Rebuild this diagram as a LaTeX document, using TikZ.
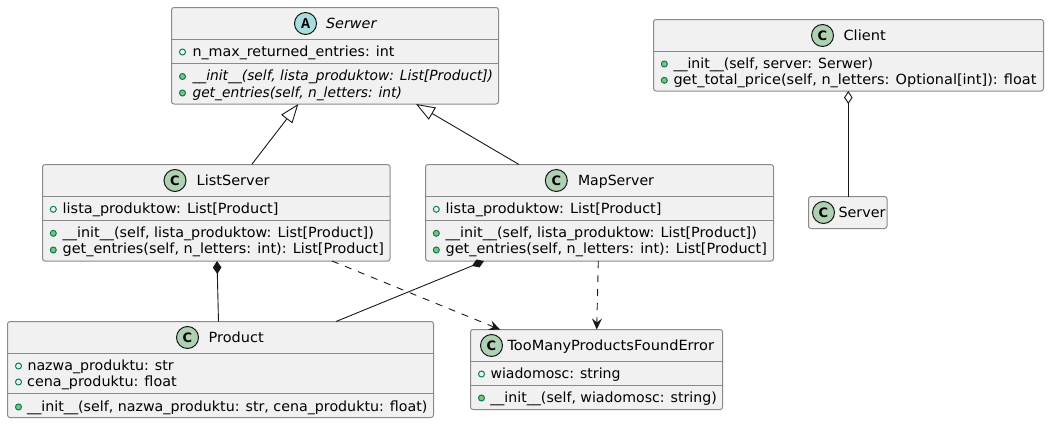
\documentclass[tikz,border=0pt]{standalone}
\usepackage{fontspec}
\usepackage{graphicx}
\setmainfont{DejaVu Sans}
\newfontfamily\glyphfont{Liberation Mono}
\usetikzlibrary{arrows.meta,calc}
\definecolor{boxfill}{HTML}{F1F1F1}
\definecolor{boxline}{HTML}{8A8A8A}
\definecolor{ink}{HTML}{181818}
\definecolor{classc}{HTML}{ADD1B2}
\definecolor{abstractc}{HTML}{A9DCDF}
\definecolor{vis}{HTML}{038048}
\definecolor{visfill}{HTML}{84BE84}
\newsavebox\fitbox
\newcommand\fitw[2]{\sbox\fitbox{#2}\pgfmathsetmacro\fitr{#1/(\the\wd\fitbox)}\scalebox{\fitr}[1]{\usebox\fitbox}}
\tikzset{
  umlbox/.style={draw=boxline,fill=boxfill,line width=1pt,rounded corners=2.5pt,inner sep=0pt,outer sep=0pt,anchor=north west},
  sepline/.style={draw=boxline,line width=1pt},
  txt/.style={anchor=base west,inner sep=0pt,outer sep=0pt,text=black,font=\fontsize{14}{16}\selectfont},
  icon/.style={circle,draw=ink,line width=1pt,minimum size=22pt,inner sep=0pt,text=black},
  classicon/.style={icon,fill=classc,font=\bfseries\fontsize{13}{13}\selectfont},
  abstracticon/.style={icon,fill=abstractc,font=\glyphfont\bfseries\fontsize{15}{15}\selectfont},
  fieldmark/.style={circle,draw=vis,line width=1pt,fill=none,minimum size=6pt,inner sep=0pt},
  methodmark/.style={circle,draw=vis,line width=1pt,fill=visfill,minimum size=6pt,inner sep=0pt},
  rel/.style={draw=ink,line width=0.9pt},
  inherit/.style={rel,-{Triangle[open,length=19pt,width=14pt,fill=white]}},
  compose/.style={rel,{Diamond[length=13pt,width=8.5pt,fill=ink]}-},
  aggregate/.style={rel,{Diamond[open,length=13pt,width=8.5pt,fill=white]}-},
  depend/.style={rel,dash pattern=on 7pt off 7pt,-{Stealth[length=11pt,width=10pt,inset=4pt,fill=ink]}}
}
\begin{document}
\begin{tikzpicture}[x=1pt,y=-1pt]
\useasboundingbox (0,0) rectangle (1049,423);
% boxes
\node[umlbox,minimum width=327pt,minimum height=96.5pt] (serwer) at (171.5,7.5) {};
\node[umlbox,minimum width=390pt,minimum height=71.5pt] (client) at (653.5,19.5) {};
\node[umlbox,minimum width=78.5pt,minimum height=32pt] (server) at (808.5,196.5) {};
\node[umlbox,minimum width=347.5pt,minimum height=96.5pt] (listserver) at (42.5,164.5) {};
\node[umlbox,minimum width=348pt,minimum height=96.5pt] (mapserver) at (425.5,164.5) {};
\node[umlbox,minimum width=426pt,minimum height=96pt] (product) at (7.5,321.5) {};
\node[umlbox,minimum width=252pt,minimum height=80pt] (toomany) at (470.5,329.5) {};
% separators
\draw[sepline] (serwer.west |- 0,39.5) -- (serwer.east |- 0,39.5);
\draw[sepline] (serwer.west |- 0,63.5) -- (serwer.east |- 0,63.5);
\draw[sepline] (client.west |- 0,51.5) -- (client.east |- 0,51.5);
\draw[sepline] (listserver.west |- 0,196.5) -- (listserver.east |- 0,196.5);
\draw[sepline] (listserver.west |- 0,220.5) -- (listserver.east |- 0,220.5);
\draw[sepline] (mapserver.west |- 0,196.5) -- (mapserver.east |- 0,196.5);
\draw[sepline] (mapserver.west |- 0,220.5) -- (mapserver.east |- 0,220.5);
\draw[sepline] (product.west |- 0,353.5) -- (product.east |- 0,353.5);
\draw[sepline] (product.west |- 0,393.5) -- (product.east |- 0,393.5);
\draw[sepline] (toomany.west |- 0,361.5) -- (toomany.east |- 0,361.5);
\draw[sepline] (toomany.west |- 0,385.5) -- (toomany.east |- 0,385.5);
% Serwer
\node[abstracticon] (iconserwer) at (305.5,23.5) {A};
\node[txt] (tserwer) at (326,28) {\fitw{50.5}{\itshape Serwer}};
\node[fieldmark] (m1) at (182.5,52) {};
\node[txt] (t1) at (192.5,56) {\fitw{202}{n\_max\_returned\_entries: int}};
\node[methodmark] (m2) at (182.5,76.5) {};
\node[txt] (t2) at (192.5,80.5) {\fitw{300.5}{\itshape \_\_init\_\_(self, lista\_produktow: List[Product])}};
\node[methodmark] (m3) at (182.5,93) {};
\node[txt] (t3) at (192.5,97) {\fitw{209.5}{\itshape get\_entries(self, n\_letters: int)}};
% Client
\node[classicon] (iconclient) at (822.5,35.5) {C};
\node[txt] (tclient) at (843.5,40) {\fitw{42.3}{Client}};
\node[methodmark] (m4) at (664.3,64) {};
\node[txt] (t4) at (673.5,68) {\fitw{199.5}{\_\_init\_\_(self, server: Serwer)}};
\node[methodmark] (m5) at (664.3,80.3) {};
\node[txt] (t5) at (673.5,84) {\fitw{363}{get\_total\_price(self, n\_letters: Optional[int]): float}};
% Server
\node[classicon] (iconserver) at (823.5,212.5) {C};
\node[txt] (tserver) at (838.5,217) {\fitw{47}{Server}};
% ListServer
\node[classicon] (iconlist) at (175,180.5) {C};
\node[txt] (tlist) at (196.7,185) {\fitw{73}{ListServer}};
\node[fieldmark] (m6) at (53.3,209.3) {};
\node[txt] (t6) at (62.7,213) {\fitw{215.8}{lista\_produktow: List[Product]}};
\node[methodmark] (m7) at (53.3,233.3) {};
\node[txt] (t7) at (62.7,237) {\fitw{311.2}{\_\_init\_\_(self, lista\_produktow: List[Product])}};
\node[methodmark] (m8) at (53.3,250) {};
\node[txt] (t8) at (62.7,253.5) {\fitw{321.2}{get\_entries(self, n\_letters: int): List[Product]}};
% MapServer
\node[classicon] (iconmap) at (556.3,180.5) {C};
\node[txt] (tmap) at (578,185) {\fitw{76}{MapServer}};
\node[fieldmark] (m9) at (436.3,209.3) {};
\node[txt] (t9) at (445.7,213) {\fitw{215.8}{lista\_produktow: List[Product]}};
\node[methodmark] (m10) at (436.3,233.3) {};
\node[txt] (t10) at (445.7,237) {\fitw{311.2}{\_\_init\_\_(self, lista\_produktow: List[Product])}};
\node[methodmark] (m11) at (436.3,250) {};
\node[txt] (t11) at (445.7,253.5) {\fitw{321.2}{get\_entries(self, n\_letters: int): List[Product]}};
% Product
\node[classicon] (iconproduct) at (187.5,337.5) {C};
\node[txt] (tproduct) at (208.7,342) {\fitw{55}{Product}};
\node[fieldmark] (m12) at (18.5,366) {};
\node[txt] (t12) at (27.5,370) {\fitw{146.3}{nazwa\_produktu: str}};
\node[fieldmark] (m13) at (18.5,382) {};
\node[txt] (t13) at (27.2,386) {\fitw{149.5}{cena\_produktu: float}};
\node[methodmark] (m14) at (18.5,407) {};
\node[txt] (t14) at (27.2,411) {\fitw{400.2}{\_\_init\_\_(self, nazwa\_produktu: str, cena\_produktu: float)}};
% TooMany
\node[classicon] (icontoo) at (491.5,345.5) {C};
\node[txt] (ttoo) at (507.5,350) {\fitw{206.5}{TooManyProductsFoundError}};
\node[fieldmark] (m15) at (481.5,374) {};
\node[txt] (t15) at (490.5,378) {\fitw{130}{wiadomosc: string}};
\node[methodmark] (m16) at (481.5,398) {};
\node[txt] (t16) at (490.3,402) {\fitw{226.5}{\_\_init\_\_(self, wiadomosc: string)}};
% connectors
\draw[inherit] (251.7,0 |- listserver.north) -- (298.3,0 |- serwer.south);
\draw[inherit] (519,0 |- mapserver.north) -- (416,0 |- serwer.south);
\draw[compose] (217,0 |- listserver.south) -- (218.5,0 |- product.north);
\draw[compose] (484,0 |- mapserver.south) -- (336,0 |- product.north);
\draw[aggregate] (848.3,0 |- client.south) -- (848.3,0 |- server.north);
\draw[depend] (332,0 |- listserver.south) -- (500,0 |- toomany.north);
\draw[depend] (598.3,0 |- mapserver.south) -- (596.7,0 |- toomany.north);
\end{tikzpicture}
\end{document}
